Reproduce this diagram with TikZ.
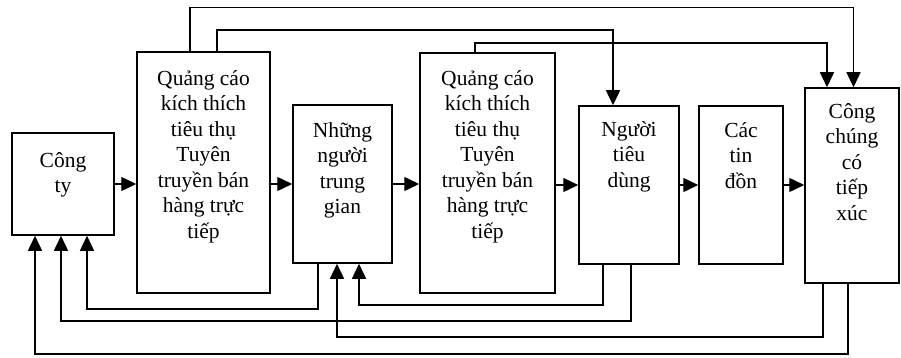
\documentclass[tikz,border=0pt]{standalone}
\usepackage{fontspec}
\setmainfont{Liberation Serif}
\usetikzlibrary{arrows.meta}
\tikzset{
  box/.style={draw, line width=1.5pt, rectangle, inner sep=0pt},
  txt/.style={anchor=north, inner sep=0pt, align=center, font=\fontsize{21.5}{25.5}\selectfont},
  arr/.style={line width=1.4pt, -{Triangle[length=15pt,width=14pt]}},
  ln/.style={line width=1.4pt}
}
\newcommand{\fs}{\rule{0pt}{21pt}}
\begin{document}
\begin{tikzpicture}[x=1pt,y=-1pt]
\useasboundingbox (0,0) rectangle (901,358);
% boxes
\node[box, minimum width=102pt, minimum height=102pt] (cty) at (63,184) {};
\node[box, minimum width=133pt, minimum height=241pt] (qc1) at (203.5,172.5) {};
\node[box, minimum width=99pt, minimum height=158pt] (tg) at (342.5,184) {};
\node[box, minimum width=135pt, minimum height=240pt] (qc2) at (487.5,173) {};
\node[box, minimum width=100pt, minimum height=158pt] (ntd) at (629,185) {};
\node[box, minimum width=84pt, minimum height=158pt] (td) at (741,185) {};
\node[box, minimum width=94pt, minimum height=195pt] (ccx) at (852,185.5) {};
% texts
\node[txt] (tcty) at ([yshift=-14pt]cty.north) {\fs Công\\ty};
\node[txt] (tqc1) at ([yshift=-13pt]qc1.north) {\fs Quảng cáo\\kích thích\\tiêu thụ\\Tuyên\\truyền bán\\hàng trực\\tiếp};
\node[txt] (ttg) at ([yshift=-12pt]tg.north) {\fs Những\\người\\trung\\gian};
\node[txt] (tqc2) at ([yshift=-12pt]qc2.north) {\fs Quảng cáo\\kích thích\\tiêu thụ\\Tuyên\\truyền bán\\hàng trực\\tiếp};
\node[txt] (tntd) at ([yshift=-10pt]ntd.north) {\fs Người\\tiêu\\dùng};
\node[txt] (ttd) at ([yshift=-11pt]td.north) {\fs Các\\tin\\đồn};
\node[txt] (tccx) at ([yshift=-10pt]ccx.north) {\fs Công\\chúng\\có\\tiếp\\xúc};
% channel levels
\coordinate (top1) at (0,7.5);
\coordinate (top2) at (0,30);
\coordinate (top3) at (0,43);
\coordinate (b0) at (0,305);
\coordinate (b1) at (0,309);
\coordinate (b2) at (0,321);
\coordinate (b3) at (0,337);
\coordinate (b4) at (0,354);
% main chain
\draw[arr] (cty.east) -- (cty.east -| qc1.west);
\draw[arr] (qc1.east |- tg.west) -- (tg.west);
\draw[arr] (tg.east) -- (tg.east -| qc2.west);
\draw[arr] (qc2.east |- ntd.west) -- (ntd.west);
\draw[arr] (ntd.east) -- (td.west);
\draw[arr] (td.east) -- (td.east -| ccx.west);
% top connectors
\draw[arr] ([xshift=-13.5pt]qc1.north) |- ([xshift=1.5pt]ccx.north |- top1) -- ([xshift=1.5pt]ccx.north);
\draw[arr] ([xshift=13.5pt]qc1.north) |- ([xshift=-16pt]ntd.north |- top2) -- ([xshift=-16pt]ntd.north);
\draw[arr] ([xshift=-12.5pt]qc2.north) |- ([xshift=-25pt]ccx.north |- top3) -- ([xshift=-25pt]ccx.north);
% bottom connectors
\draw[arr] ([xshift=-24.5pt]tg.south) |- ([xshift=24pt]cty.south |- b1) -- ([xshift=24pt]cty.south);
\draw[arr] ([xshift=-26pt]ntd.south) |- ([xshift=16.5pt]tg.south |- b0) -- ([xshift=16.5pt]tg.south);
\draw[arr] ([xshift=2pt]ntd.south) |- ([xshift=-2pt]cty.south |- b2) -- ([xshift=-2pt]cty.south);
\draw[arr] ([xshift=-29pt]ccx.south) |- ([xshift=-5.5pt]tg.south |- b3) -- ([xshift=-5.5pt]tg.south);
\draw[arr] ([xshift=-4pt]ccx.south) |- ([xshift=-28pt]cty.south |- b4) -- ([xshift=-28pt]cty.south);
\end{tikzpicture}
\end{document}
